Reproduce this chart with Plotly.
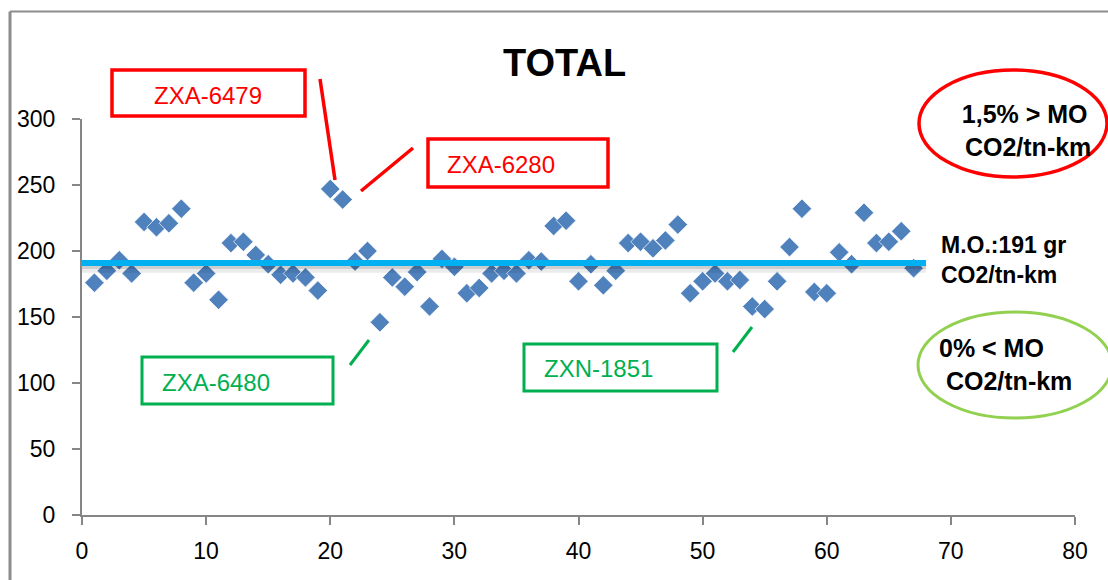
import plotly.graph_objects as go

# Per-vehicle CO2 intensity (g CO2 / tn-km)
vehicle_idx = list(range(1, 68))
co2_values = [176, 185, 193, 183, 222, 218, 221, 232, 176, 183,
              163, 206, 207, 197, 190, 182, 183, 180, 170, 247,
              239, 192, 200, 146, 180, 173, 184, 158, 194, 188,
              168, 172, 183, 185, 183, 193, 192, 219, 223, 177,
              190, 174, 185, 206, 207, 202, 208, 220, 168, 177,
              183, 177, 178, 158, 156, 177, 203, 232, 169, 168,
              199, 190, 229, 206, 207, 215, 187]

mean_value = 191
mean_x = [0, 68]

x_ticks = [0, 10, 20, 30, 40, 50, 60, 70, 80]
y_ticks = [0, 50, 100, 150, 200, 250, 300]

# Plot-area pixel frame used to place decorations in paper coordinates
L, R, T, B = 82, 1075, 119, 515


def px(xp):
    return (xp - L) / (R - L)


def py(yp):
    return (B - yp) / (B - T)


FONT = "Liberation Sans, Arial, sans-serif"
RED = "#FF0000"
GREEN = "#00B050"
LGREEN = "#92D050"
AXIS = "#868686"

fig = go.Figure()

fig.add_trace(go.Scatter(
    x=vehicle_idx, y=co2_values, mode="markers",
    marker=dict(symbol="diamond", size=15, color="#4F81BD",
                line=dict(color="rgba(255,255,255,0.7)", width=1)),
    showlegend=False, hoverinfo="x+y"))

# soft shadow under the average line
fig.add_trace(go.Scatter(
    x=mean_x, y=[mean_value - 3, mean_value - 3], mode="lines",
    line=dict(color="rgba(0,0,0,0.08)", width=12),
    showlegend=False, hoverinfo="skip"))
fig.add_trace(go.Scatter(
    x=mean_x, y=[mean_value - 2, mean_value - 2], mode="lines",
    line=dict(color="rgba(0,0,0,0.12)", width=7),
    showlegend=False, hoverinfo="skip"))
fig.add_trace(go.Scatter(
    x=mean_x, y=[mean_value, mean_value], mode="lines",
    line=dict(color="#00B0F0", width=6),
    showlegend=False, hoverinfo="skip"))

shapes = []


def seg(x0, y0, x1, y1, color, width):
    shapes.append(dict(type="line", xref="paper", yref="paper",
                       x0=px(x0), y0=py(y0), x1=px(x1), y1=py(y1),
                       line=dict(color=color, width=width)))


def box(x0, y0, x1, y1, color, width, kind="rect"):
    shapes.append(dict(type=kind, xref="paper", yref="paper",
                       x0=px(x0), y0=py(y1), x1=px(x1), y1=py(y0),
                       line=dict(color=color, width=width),
                       fillcolor="rgba(0,0,0,0)"))


# outer chart frame
seg(10, 11.5, 1120, 11.5, "#8C8C8C", 2)
seg(10, 11.5, 10, 600, "#8C8C8C", 3)

# callouts for the highest values
box(112, 70, 305, 116, RED, 3.5)
seg(320, 79, 335, 180, RED, 3.5)
box(428, 139, 608, 187, RED, 3.5)
seg(413, 148, 361, 191, RED, 3.5)

# callouts for the lowest values
box(142, 357, 333, 404, GREEN, 3)
seg(350, 365, 369, 340, GREEN, 3)
box(524, 344, 717, 391, GREEN, 3)
seg(733, 352, 752, 327, GREEN, 3)

# threshold ellipses
box(919, 70, 1107, 177, RED, 3.5, "circle")
box(918, 312, 1112, 418, LGREEN, 3, "circle")

annotations = []


def label(text, x, y, size, color="black", bold=False, xanchor="center", align="center"):
    if bold:
        text = "<b>" + text.replace("<br>", "</b><br><b>") + "</b>"
    annotations.append(dict(text=text, xref="paper", yref="paper",
                            x=px(x), y=py(y), xanchor=xanchor, yanchor="middle",
                            align=align, showarrow=False,
                            font=dict(family=FONT, size=size, color=color)))


label("TOTAL", 564, 63, 38, bold=True)
label("ZXA-6479", 208, 95, 24, RED)
label("ZXA-6280", 501, 164, 24, RED)
label("ZXA-6480", 216, 382, 24, GREEN)
label("ZXN-1851", 598, 368, 24, GREEN)
label("1,5% &gt; MO<br> CO2/tn-km", 1024, 130, 25, bold=True)
label("M.O.:191 gr<br>CO2/tn-km", 939, 260, 23, bold=True, xanchor="left", align="left")
label("0% &lt; MO<br> CO2/tn-km", 937, 364, 25, bold=True, xanchor="left", align="left")

axis_common = dict(showline=True, linecolor=AXIS, linewidth=2,
                   ticks="outside", ticklen=8, tickcolor=AXIS, tickwidth=1.5,
                   showgrid=False, zeroline=False,
                   tickfont=dict(family=FONT, size=23, color="black"))

fig.update_layout(
    width=1108, height=580,
    margin=dict(l=L, r=1108 - R, t=T, b=580 - B),
    paper_bgcolor="white", plot_bgcolor="white",
    xaxis=dict(range=[0, 80], tickvals=x_ticks, ticklabelstandoff=6, **axis_common),
    yaxis=dict(range=[0, 300], tickvals=y_ticks, ticklabelstandoff=12, **axis_common),
    shapes=shapes, annotations=annotations,
)

fig.write_html("out.html")
